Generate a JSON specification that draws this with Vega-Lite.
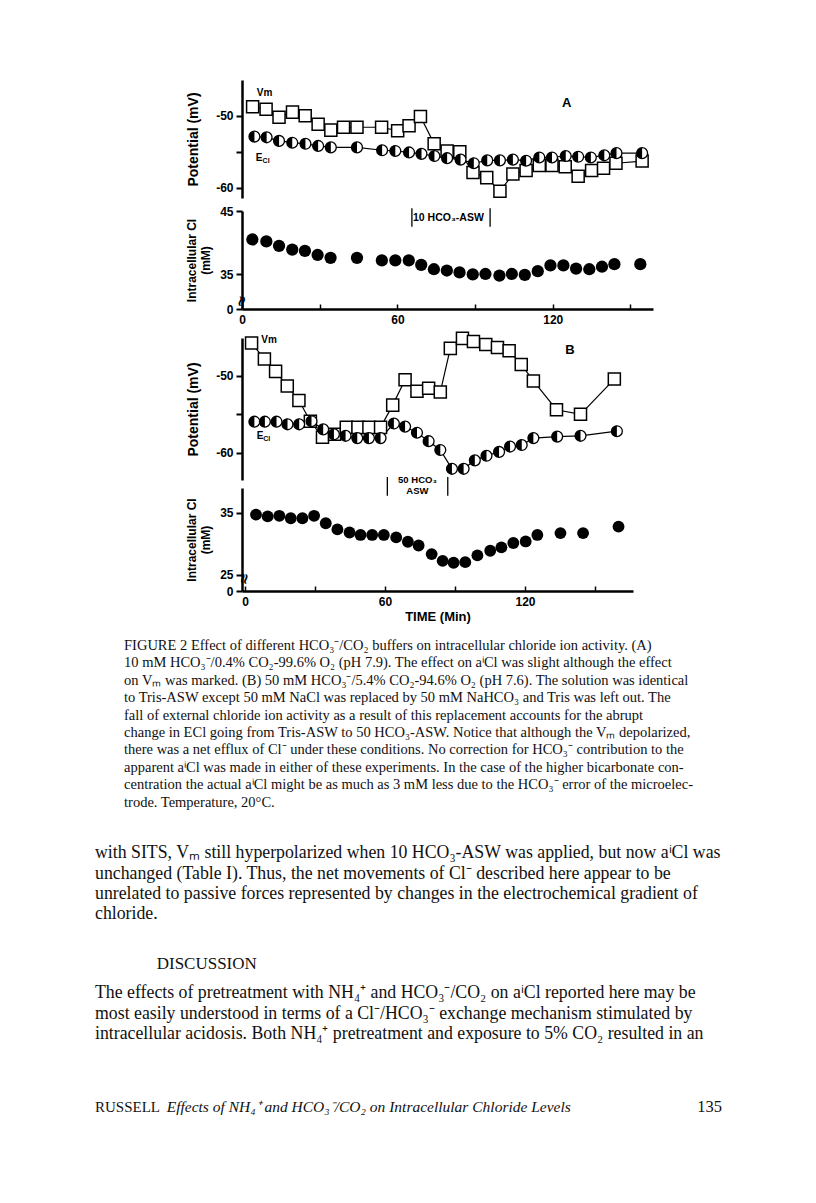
{
  "$schema": "https://vega.github.io/schema/vega-lite/v6.json",
  "background": "white",
  "padding": {"left": 95, "top": 80, "right": 10, "bottom": 10},
  "spacing": 0,
  "bounds": "flush",
  "config": {
    "view": {"stroke": null},
    "axis": {"grid": false, "domainColor": "#000", "domainWidth": 2.5, "tickColor": "#000", "tickWidth": 2, "labelColor": "#000", "titleColor": "#000", "labelFont": "Liberation Sans", "titleFont": "Liberation Sans", "labelFontWeight": "bold", "titleFontWeight": "bold", "labelFontSize": 12, "titleFontSize": 12, "labelFlush": false, "labelOverlap": false}
  },
  "datasets": {
    "aVm": [{"t":4.1,"v":-48.75},{"t":9.3,"v":-49.1},{"t":14.3,"v":-50.2},{"t":19.5,"v":-49.5},{"t":24.4,"v":-50.0},{"t":29.4,"v":-51.2},{"t":34.3,"v":-52.0},{"t":39.2,"v":-51.6},{"t":44.4,"v":-51.6},{"t":53.9,"v":-51.6},{"t":60.1,"v":-52.1},{"t":64.5,"v":-51.4},{"t":68.9,"v":-50.1},{"t":74.2,"v":-53.9},{"t":79.2,"v":-54.9},{"t":84.1,"v":-55.0},{"t":89.2,"v":-57.9},{"t":94.5,"v":-58.6},{"t":99.6,"v":-60.5},{"t":104.6,"v":-58.1},{"t":109.7,"v":-57.6},{"t":114.8,"v":-56.9},{"t":119.7,"v":-56.9},{"t":124.8,"v":-57.1},{"t":129.8,"v":-58.4},{"t":135.0,"v":-57.6},{"t":139.6,"v":-57.3},{"t":144.4,"v":-56.6},{"t":154.5,"v":-56.3}],
    "aEcl": [{"t":4.8,"v":-52.9},{"t":9.5,"v":-53.0},{"t":14.3,"v":-53.5},{"t":19.4,"v":-53.75},{"t":24.5,"v":-53.9},{"t":29.4,"v":-54.2},{"t":34.3,"v":-54.4},{"t":44.4,"v":-54.4},{"t":54.1,"v":-54.8},{"t":59.2,"v":-54.9},{"t":64.5,"v":-55.1},{"t":69.3,"v":-55.3},{"t":74.3,"v":-55.6},{"t":79.2,"v":-55.9},{"t":84.4,"v":-56.1},{"t":89.5,"v":-56.6},{"t":94.7,"v":-56.2},{"t":99.6,"v":-56.2},{"t":104.6,"v":-56.1},{"t":109.7,"v":-56.25},{"t":114.8,"v":-55.8},{"t":119.7,"v":-55.8},{"t":125.0,"v":-55.6},{"t":129.8,"v":-55.7},{"t":134.7,"v":-55.8},{"t":139.9,"v":-55.5},{"t":144.6,"v":-55.2},{"t":154.5,"v":-55.2}],
    "aCl": [{"t":4.0,"v":40.5},{"t":9.4,"v":40.2},{"t":14.3,"v":39.5},{"t":19.4,"v":38.9},{"t":24.3,"v":38.7},{"t":29.2,"v":38.05},{"t":34.2,"v":37.6},{"t":44.4,"v":37.6},{"t":54.0,"v":37.2},{"t":59.2,"v":37.2},{"t":64.4,"v":37.2},{"t":69.2,"v":36.5},{"t":74.1,"v":35.8},{"t":79.1,"v":35.6},{"t":84.0,"v":35.3},{"t":89.1,"v":35.0},{"t":94.0,"v":35.05},{"t":99.4,"v":34.8},{"t":104.2,"v":35.05},{"t":109.2,"v":34.9},{"t":114.2,"v":35.5},{"t":119.1,"v":36.4},{"t":124.1,"v":36.4},{"t":129.0,"v":35.9},{"t":134.1,"v":35.8},{"t":139.0,"v":36.2},{"t":143.8,"v":36.6},{"t":153.8,"v":36.6}],
    "bVm": [{"t":2.8,"v":-45.7},{"t":8.3,"v":-47.8},{"t":13.1,"v":-49.4},{"t":18.1,"v":-51.3},{"t":23.1,"v":-53.2},{"t":28.0,"v":-55.9},{"t":33.2,"v":-58.0},{"t":38.4,"v":-57.6},{"t":43.4,"v":-56.7},{"t":48.4,"v":-56.7},{"t":53.1,"v":-56.7},{"t":58.1,"v":-56.7},{"t":63.3,"v":-53.8},{"t":68.6,"v":-50.5},{"t":73.7,"v":-52.0},{"t":78.7,"v":-51.6},{"t":83.7,"v":-52.1},{"t":88.0,"v":-46.4},{"t":93.2,"v":-45.1},{"t":97.9,"v":-45.5},{"t":103.2,"v":-45.9},{"t":108.2,"v":-46.3},{"t":113.2,"v":-46.7},{"t":118.4,"v":-48.5},{"t":123.6,"v":-50.65},{"t":133.5,"v":-54.4},{"t":143.8,"v":-55.0},{"t":158.3,"v":-50.4}],
    "bEcl": [{"t":4.0,"v":-55.96},{"t":8.5,"v":-55.96},{"t":13.5,"v":-55.96},{"t":18.2,"v":-56.3},{"t":23.2,"v":-56.3},{"t":28.5,"v":-55.9},{"t":33.5,"v":-56.96},{"t":38.1,"v":-57.6},{"t":43.1,"v":-57.8},{"t":48.1,"v":-58.1},{"t":53.1,"v":-58.1},{"t":58.1,"v":-58.1},{"t":63.8,"v":-56.2},{"t":68.6,"v":-56.6},{"t":73.7,"v":-57.4},{"t":78.7,"v":-58.5},{"t":83.7,"v":-59.65},{"t":88.7,"v":-62.1},{"t":93.7,"v":-62.1},{"t":98.5,"v":-61.0},{"t":103.5,"v":-60.4},{"t":108.9,"v":-59.9},{"t":113.6,"v":-59.2},{"t":118.6,"v":-59.0},{"t":123.6,"v":-58.1},{"t":133.8,"v":-57.9},{"t":143.8,"v":-57.8},{"t":159.4,"v":-57.2}],
    "bCl": [{"t":4.7,"v":34.7},{"t":9.7,"v":34.4},{"t":14.7,"v":34.5},{"t":19.6,"v":34.1},{"t":24.6,"v":34.1},{"t":29.6,"v":34.5},{"t":34.6,"v":33.3},{"t":39.6,"v":32.3},{"t":44.8,"v":31.8},{"t":49.5,"v":31.4},{"t":54.5,"v":31.4},{"t":59.5,"v":31.4},{"t":64.8,"v":31.0},{"t":69.8,"v":30.3},{"t":74.4,"v":29.7},{"t":80.0,"v":28.3},{"t":84.7,"v":27.2},{"t":89.4,"v":26.9},{"t":94.4,"v":27.0},{"t":99.6,"v":28.1},{"t":105.1,"v":28.85},{"t":109.9,"v":29.4},{"t":115.0,"v":30.1},{"t":120.3,"v":30.35},{"t":125.3,"v":31.4},{"t":135.2,"v":31.7},{"t":144.9,"v":31.7},{"t":160.1,"v":32.75}],
    "caption": [
      {"line":1,"text":"FIGURE 2  Effect of different HCO₃⁻/CO₂ buffers on intracellular chloride ion activity.  (A)"},
      {"line":2,"text":"10 mM HCO₃⁻/0.4% CO₂-99.6% O₂ (pH 7.9).  The effect on aⁱCl was slight although the effect"},
      {"line":3,"text":"on Vₘ was marked. (B) 50 mM HCO₃⁻/5.4% CO₂-94.6% O₂ (pH 7.6).  The solution was identical"},
      {"line":4,"text":"to Tris-ASW except 50 mM NaCl was replaced by 50 mM NaHCO₃ and Tris was left out.  The"},
      {"line":5,"text":"fall of external chloride ion activity as a result of this replacement accounts for the abrupt"},
      {"line":6,"text":"change in ECl going from Tris-ASW to 50 HCO₃-ASW.  Notice that although the Vₘ depolarized,"},
      {"line":7,"text":"there was a net efflux of Cl⁻ under these conditions.  No correction for HCO₃⁻ contribution to the"},
      {"line":8,"text":"apparent aⁱCl was made in either of these experiments.  In the case of the higher bicarbonate con-"},
      {"line":9,"text":"centration the actual aⁱCl might be as much as 3 mM less due to the HCO₃⁻ error of the microelec-"},
      {"line":10,"text":"trode.  Temperature, 20°C."}
    ],
    "body": [
      {"line":1,"text":"with SITS, Vₘ still hyperpolarized when 10 HCO₃-ASW was applied, but now aⁱCl was"},
      {"line":2,"text":"unchanged (Table I).  Thus, the net movements of Cl⁻ described here appear to be"},
      {"line":3,"text":"unrelated to passive forces represented by changes in the electrochemical gradient of"},
      {"line":4,"text":"chloride."}
    ],
    "heading": [{"line":1,"text":"DISCUSSION"}],
    "discussion": [
      {"line":1,"text":"The effects of pretreatment with NH₄⁺ and HCO₃⁻/CO₂ on aⁱCl reported here may be"},
      {"line":2,"text":"most easily understood in terms of a Cl⁻/HCO₃⁻ exchange mechanism stimulated by"},
      {"line":3,"text":"intracellular acidosis.  Both NH₄⁺ pretreatment and exposure to 5% CO₂ resulted in an"}
    ],
    "footer": [
      {"line":1,"part":"author","text":"RUSSELL"},
      {"line":1,"part":"title","text":"Effects of NH₄⁺ and HCO₃⁻/CO₂ on Intracellular Chloride Levels"},
      {"line":1,"part":"page","text":"135"}
    ]
  },
  "vconcat": [
    {
      "width": 411, "height": 131,
      "encoding": {
        "x": {"field": "t", "type": "quantitative", "scale": {"domain": [0, 158.7], "nice": false}, "axis": null},
        "y": {"field": "v", "type": "quantitative", "scale": {"domain": [-61.43, -45.04], "range": [118, 0], "nice": false},
              "axis": {"values": [-60, -55, -50, -45], "labelExpr": "datum.value % 10 === 0 ? '-' + abs(datum.value) : ''", "title": "Potential (mV)", "tickSize": 6, "labelPadding": 3, "titlePadding": 15, "titleFontSize": 14}}
      },
      "layer": [
        {"data": {"name": "aVm"}, "mark": {"type": "line", "color": "#000", "strokeWidth": 1.2}},
        {"data": {"name": "aEcl"}, "mark": {"type": "line", "color": "#000", "strokeWidth": 1.2}},
        {"data": {"name": "aVm"}, "mark": {"type": "point", "shape": "square", "filled": true, "fill": "#fff", "stroke": "#000", "strokeWidth": 1.5, "size": 145, "opacity": 1}},
        {"data": {"name": "aEcl"}, "mark": {"type": "point", "shape": "circle", "filled": true, "fill": "#fff", "stroke": "#000", "strokeWidth": 1.3, "size": 118, "opacity": 1}},
        {"data": {"name": "aEcl"}, "mark": {"type": "point", "shape": "M0,-1A1,1,0,0,0,0,1Z", "filled": true, "fill": "#000", "strokeWidth": 0, "size": 118, "opacity": 1}},
        {"data": {"values": [{"t": 8.7, "v": -46.85, "label": "Vm"}, {"t": 6.6, "v": -55.85, "label": "E"}]}, "mark": {"type": "text", "font": "Liberation Sans", "fontWeight": "bold", "fontSize": 10, "color": "#000"}, "encoding": {"text": {"field": "label"}}},
        {"data": {"values": [{"t": 9.3, "v": -56.25, "label": "Cl"}]}, "mark": {"type": "text", "font": "Liberation Sans", "fontWeight": "bold", "fontSize": 7, "color": "#000"}, "encoding": {"text": {"field": "label"}}},
        {"data": {"values": [{"t": 125.4, "v": -48.3, "label": "A"}]}, "mark": {"type": "text", "font": "Liberation Sans", "fontWeight": "bold", "fontSize": 13, "color": "#000"}, "encoding": {"text": {"field": "label"}}}
      ]
    },
    {
      "width": 411, "height": 98,
      "encoding": {
        "x": {"field": "t", "type": "quantitative", "scale": {"domain": [0, 158.7], "nice": false},
              "axis": {"values": [0, 30, 60, 90, 120, 150], "labelExpr": "datum.value % 60 === 0 ? datum.label : ''", "tickSize": -5, "tickWidth": 1.5, "labelPadding": 10, "title": null, "labelFontSize": 12}},
        "y": {"field": "v", "type": "quantitative", "scale": {"domain": [29.52, 45], "nice": false},
              "axis": {"values": [29.52, 35, 45], "labelExpr": "datum.value < 30 ? '0' : '' + datum.value", "title": ["Intracellular Cl", "(mM)"], "tickSize": 6, "labelPadding": 3, "titlePadding": 7, "titleFontSize": 12}}
      },
      "layer": [
        {"data": {"name": "aCl"}, "mark": {"type": "point", "shape": "circle", "filled": true, "fill": "#000", "strokeWidth": 0, "size": 150, "opacity": 1}},
        {"data": {"values": [{"t": 65.6, "v": 45.43, "v2": 42.52}, {"t": 95.8, "v": 45.43, "v2": 42.52}]}, "mark": {"type": "rule", "color": "#000", "strokeWidth": 1.3}, "encoding": {"y2": {"field": "v2"}}},
        {"data": {"values": [{"t": 79.7, "v": 43.85, "label": "10 HCO₃-ASW"}]}, "mark": {"type": "text", "font": "Liberation Sans", "fontWeight": "bold", "fontSize": 10.5, "color": "#000"}, "encoding": {"text": {"field": "label"}}},
        {"data": {"values": [{"t": 0, "v": 30.7, "label": "≈"}]}, "mark": {"type": "text", "angle": 100, "font": "DejaVu Sans", "fontWeight": "bold", "fontSize": 15, "color": "#000"}, "encoding": {"text": {"field": "label"}}}
      ]
    },
    {
      "width": 391, "height": 179,
      "encoding": {
        "x": {"field": "t", "type": "quantitative", "scale": {"domain": [-1.3, 166.3], "nice": false}, "axis": null},
        "y": {"field": "v", "type": "quantitative", "scale": {"domain": [-63.56, -45.05], "range": [171, 29], "nice": false},
              "axis": {"values": [-60, -55, -50, -45], "labelExpr": "datum.value % 10 === 0 ? '-' + abs(datum.value) : ''", "title": "Potential (mV)", "tickSize": 6, "labelPadding": 3, "titlePadding": 15, "titleFontSize": 14}}
      },
      "layer": [
        {"data": {"name": "bVm"}, "mark": {"type": "line", "color": "#000", "strokeWidth": 1.2}},
        {"data": {"name": "bEcl"}, "mark": {"type": "line", "color": "#000", "strokeWidth": 1.2}},
        {"data": {"name": "bVm"}, "mark": {"type": "point", "shape": "square", "filled": true, "fill": "#fff", "stroke": "#000", "strokeWidth": 1.5, "size": 145, "opacity": 1}},
        {"data": {"name": "bEcl"}, "mark": {"type": "point", "shape": "circle", "filled": true, "fill": "#fff", "stroke": "#000", "strokeWidth": 1.3, "size": 118, "opacity": 1}},
        {"data": {"name": "bEcl"}, "mark": {"type": "point", "shape": "M0,-1A1,1,0,0,0,0,1Z", "filled": true, "fill": "#000", "strokeWidth": 0, "size": 118, "opacity": 1}},
        {"data": {"values": [{"t": 10.3, "v": -45.3, "label": "Vm"}, {"t": 6.4, "v": -57.8, "label": "E"}]}, "mark": {"type": "text", "font": "Liberation Sans", "fontWeight": "bold", "fontSize": 10, "color": "#000"}, "encoding": {"text": {"field": "label"}}},
        {"data": {"values": [{"t": 9.3, "v": -58.2, "label": "Cl"}]}, "mark": {"type": "text", "font": "Liberation Sans", "fontWeight": "bold", "fontSize": 7, "color": "#000"}, "encoding": {"text": {"field": "label"}}},
        {"data": {"values": [{"t": 139.3, "v": -46.6, "label": "B"}]}, "mark": {"type": "text", "font": "Liberation Sans", "fontWeight": "bold", "fontSize": 13, "color": "#000"}, "encoding": {"text": {"field": "label"}}},
        {"data": {"values": [{"t": 61.0, "v": -63.17, "v2": -65.6}, {"t": 86.9, "v": -63.17, "v2": -65.6}]}, "mark": {"type": "rule", "color": "#000", "strokeWidth": 1.3}, "encoding": {"y2": {"field": "v2"}}},
        {"data": {"values": [{"t": 73.9, "v": -63.55, "label": "50 HCO₃"}, {"t": 73.9, "v": -65.0, "label": "ASW"}]}, "mark": {"type": "text", "font": "Liberation Sans", "fontWeight": "bold", "fontSize": 9.5, "color": "#000"}, "encoding": {"text": {"field": "label"}}}
      ]
    },
    {
      "width": 391, "height": 103,
      "encoding": {
        "x": {"field": "t", "type": "quantitative", "scale": {"domain": [-1.3, 166.3], "nice": false},
              "axis": {"values": [0, 30, 60, 90, 120, 150], "labelExpr": "datum.value % 60 === 0 ? datum.label : ''", "tickSize": -5, "tickWidth": 1.5, "labelPadding": 10, "title": "TIME (Min)", "titleFontSize": 13, "titlePadding": 3, "labelFontSize": 12}},
        "y": {"field": "v", "type": "quantitative", "scale": {"domain": [22.33, 39.0], "nice": false},
              "axis": {"values": [22.33, 25, 35], "labelExpr": "datum.value < 24 ? '0' : '' + datum.value", "title": ["Intracellular Cl", "(mM)"], "tickSize": 6, "labelPadding": 3, "titlePadding": 7, "titleFontSize": 12}}
      },
      "layer": [
        {"data": {"name": "bCl"}, "mark": {"type": "point", "shape": "circle", "filled": true, "fill": "#000", "strokeWidth": 0, "size": 140, "opacity": 1}},
        {"data": {"values": [{"t": -0.2, "v": 24.3, "label": "≈"}]}, "mark": {"type": "text", "angle": 100, "font": "DejaVu Sans", "fontWeight": "bold", "fontSize": 15, "color": "#000"}, "encoding": {"text": {"field": "label"}}}
      ]
    },
    {
      "width": 480, "height": 530,
      "resolve": {"scale": {"y": "independent"}},
      "layer": [
        {"data": {"name": "caption"}, "mark": {"type": "text", "align": "left", "baseline": "middle", "font": "Liberation Serif", "fontSize": 14.5, "color": "#111"},
         "encoding": {"x": {"datum": 4.63, "type": "quantitative", "scale": {"domain": [0, 100], "range": [-147, 480]}, "axis": null},
                      "y": {"field": "line", "type": "quantitative", "scale": {"domain": [1, 10], "range": [55, 211.7]}, "axis": null},
                      "text": {"field": "text"}}},
        {"data": {"name": "body"}, "mark": {"type": "text", "align": "left", "baseline": "middle", "font": "Liberation Serif", "fontSize": 17.8, "color": "#111"},
         "encoding": {"x": {"datum": 0, "type": "quantitative", "scale": {"domain": [0, 100], "range": [-147, 480]}, "axis": null},
                      "y": {"field": "line", "type": "quantitative", "scale": {"domain": [1, 4], "range": [262.3, 323]}, "axis": null},
                      "text": {"field": "text"}}},
        {"data": {"name": "heading"}, "mark": {"type": "text", "align": "left", "baseline": "middle", "font": "Liberation Serif", "fontSize": 17, "color": "#111"},
         "encoding": {"x": {"datum": 9.84, "type": "quantitative", "scale": {"domain": [0, 100], "range": [-147, 480]}, "axis": null},
                      "y": {"field": "line", "type": "quantitative", "scale": {"domain": [0, 2], "range": [363, 383]}, "axis": null},
                      "text": {"field": "text"}}},
        {"data": {"name": "discussion"}, "mark": {"type": "text", "align": "left", "baseline": "middle", "font": "Liberation Serif", "fontSize": 17.8, "color": "#111"},
         "encoding": {"x": {"datum": 0, "type": "quantitative", "scale": {"domain": [0, 100], "range": [-147, 480]}, "axis": null},
                      "y": {"field": "line", "type": "quantitative", "scale": {"domain": [1, 3], "range": [401.7, 443.3]}, "axis": null},
                      "text": {"field": "text"}}},
        {"data": {"name": "footer"}, "transform": [{"filter": "datum.part === 'author'"}], "mark": {"type": "text", "align": "left", "baseline": "middle", "font": "Liberation Serif", "fontSize": 15, "color": "#111"},
         "encoding": {"x": {"datum": 0, "type": "quantitative", "scale": {"domain": [0, 100], "range": [-147, 480]}, "axis": null},
                      "y": {"field": "line", "type": "quantitative", "scale": {"domain": [0, 2], "range": [505.7, 525.7]}, "axis": null},
                      "text": {"field": "text"}}},
        {"data": {"name": "footer"}, "transform": [{"filter": "datum.part === 'title'"}], "mark": {"type": "text", "align": "left", "baseline": "middle", "font": "Liberation Serif", "fontStyle": "italic", "fontSize": 15.5, "color": "#111"},
         "encoding": {"x": {"datum": 11.43, "type": "quantitative", "scale": {"domain": [0, 100], "range": [-147, 480]}, "axis": null},
                      "y": {"field": "line", "type": "quantitative", "scale": {"domain": [0, 2], "range": [505.7, 525.7]}, "axis": null},
                      "text": {"field": "text"}}},
        {"data": {"name": "footer"}, "transform": [{"filter": "datum.part === 'page'"}], "mark": {"type": "text", "align": "right", "baseline": "middle", "font": "Liberation Serif", "fontSize": 16.5, "color": "#111"},
         "encoding": {"x": {"datum": 100, "type": "quantitative", "scale": {"domain": [0, 100], "range": [-147, 480]}, "axis": null},
                      "y": {"field": "line", "type": "quantitative", "scale": {"domain": [0, 2], "range": [505.7, 525.7]}, "axis": null},
                      "text": {"field": "text"}}}
      ]
    }
  ]
}
